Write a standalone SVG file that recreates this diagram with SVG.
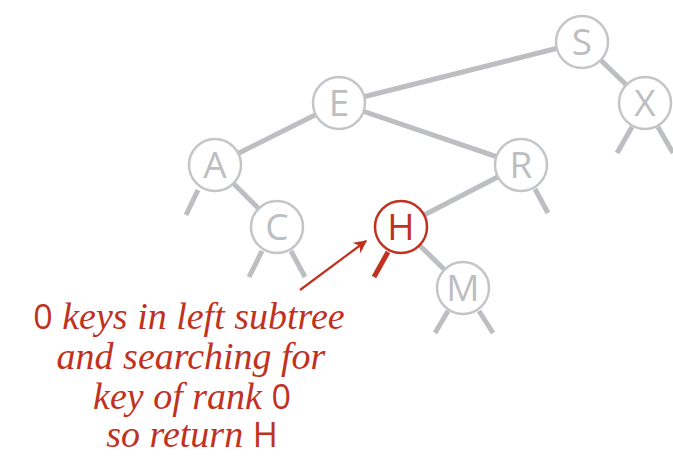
<svg xmlns="http://www.w3.org/2000/svg" width="673" height="458" viewBox="0 0 673 458">
<defs>
<style>
.e{stroke:#bdbec1;stroke-width:5;fill:none;stroke-linecap:butt}
.n circle{fill:#fff;stroke:#c4c5c8;stroke-width:2.5}
.n text{font-family:"Open Sans","DejaVu Sans",sans-serif;font-size:37px;fill:#bdbec1;text-anchor:middle}
.hl circle{stroke:#c0321f}
.hl text{fill:#c0321f}
.lbl{font-family:"Liberation Serif",serif;font-style:italic;font-size:38px;fill:#c0321f;text-anchor:middle}
.up{font-family:"Open Sans","DejaVu Sans",sans-serif;font-style:normal;font-size:34px}
</style>
<marker id="ah" viewBox="0 0 10 10" refX="9" refY="5" markerWidth="6" markerHeight="6" markerUnits="strokeWidth" orient="auto">
<path d="M0,0 L10,5 L0,10 L3,5 Z" fill="#c0321f"/>
</marker>
</defs>
<g id="connectors">
<line class="e" x1="582" y1="42" x2="339" y2="103"/>
<line class="e" x1="582" y1="42" x2="645" y2="103"/>
<line class="e" x1="339" y1="103" x2="215" y2="165"/>
<line class="e" x1="339" y1="103" x2="521" y2="165"/>
<line class="e" x1="215" y1="165" x2="277" y2="227"/>
<line class="e" x1="521" y1="165" x2="401" y2="227"/>
<line class="e" x1="401" y1="227" x2="463" y2="288"/>
<line class="e" x1="198" y1="190" x2="186" y2="215"/>
<line class="e" x1="632" y1="127" x2="617" y2="153"/>
<line class="e" x1="658" y1="127" x2="673" y2="153"/>
<line class="e" x1="535" y1="189" x2="548" y2="213"/>
<line class="e" x1="262" y1="251" x2="249" y2="277"/>
<line class="e" x1="291" y1="251" x2="305" y2="277"/>
<line class="e" x1="448" y1="311" x2="435" y2="333"/>
<line class="e" x1="479" y1="311" x2="493" y2="333"/>
<line x1="388" y1="252" x2="374" y2="277" stroke="#c0321f" stroke-width="5"/>
<line x1="300" y1="290" x2="366" y2="241" stroke="#c0321f" stroke-width="2.2" marker-end="url(#ah)"/>
</g>
<g id="node-S" class="n"><circle cx="582" cy="42" r="26"/><text x="582" y="55">S</text></g>
<g id="node-E" class="n"><circle cx="339" cy="103" r="26"/><text x="339" y="116">E</text></g>
<g id="node-X" class="n"><circle cx="645" cy="103" r="26"/><text x="645" y="116">X</text></g>
<g id="node-A" class="n"><circle cx="215" cy="165" r="26"/><text x="215" y="178">A</text></g>
<g id="node-R" class="n"><circle cx="521" cy="165" r="26"/><text x="521" y="178">R</text></g>
<g id="node-C" class="n"><circle cx="277" cy="227" r="26"/><text x="277" y="240">C</text></g>
<g id="node-H" class="n hl"><circle cx="401" cy="227" r="26"/><text x="401" y="240">H</text></g>
<g id="node-M" class="n"><circle cx="463" cy="288" r="26"/><text x="463" y="301">M</text></g>
<g id="label">
<text class="lbl" x="189" y="329"><tspan class="up">0</tspan> keys in left subtree</text>
<text class="lbl" x="191" y="369">and searching for</text>
<text class="lbl" x="192" y="409">key of rank <tspan class="up">0</tspan></text>
<text class="lbl" x="192" y="447">so return <tspan class="up">H</tspan></text>
</g>
</svg>
